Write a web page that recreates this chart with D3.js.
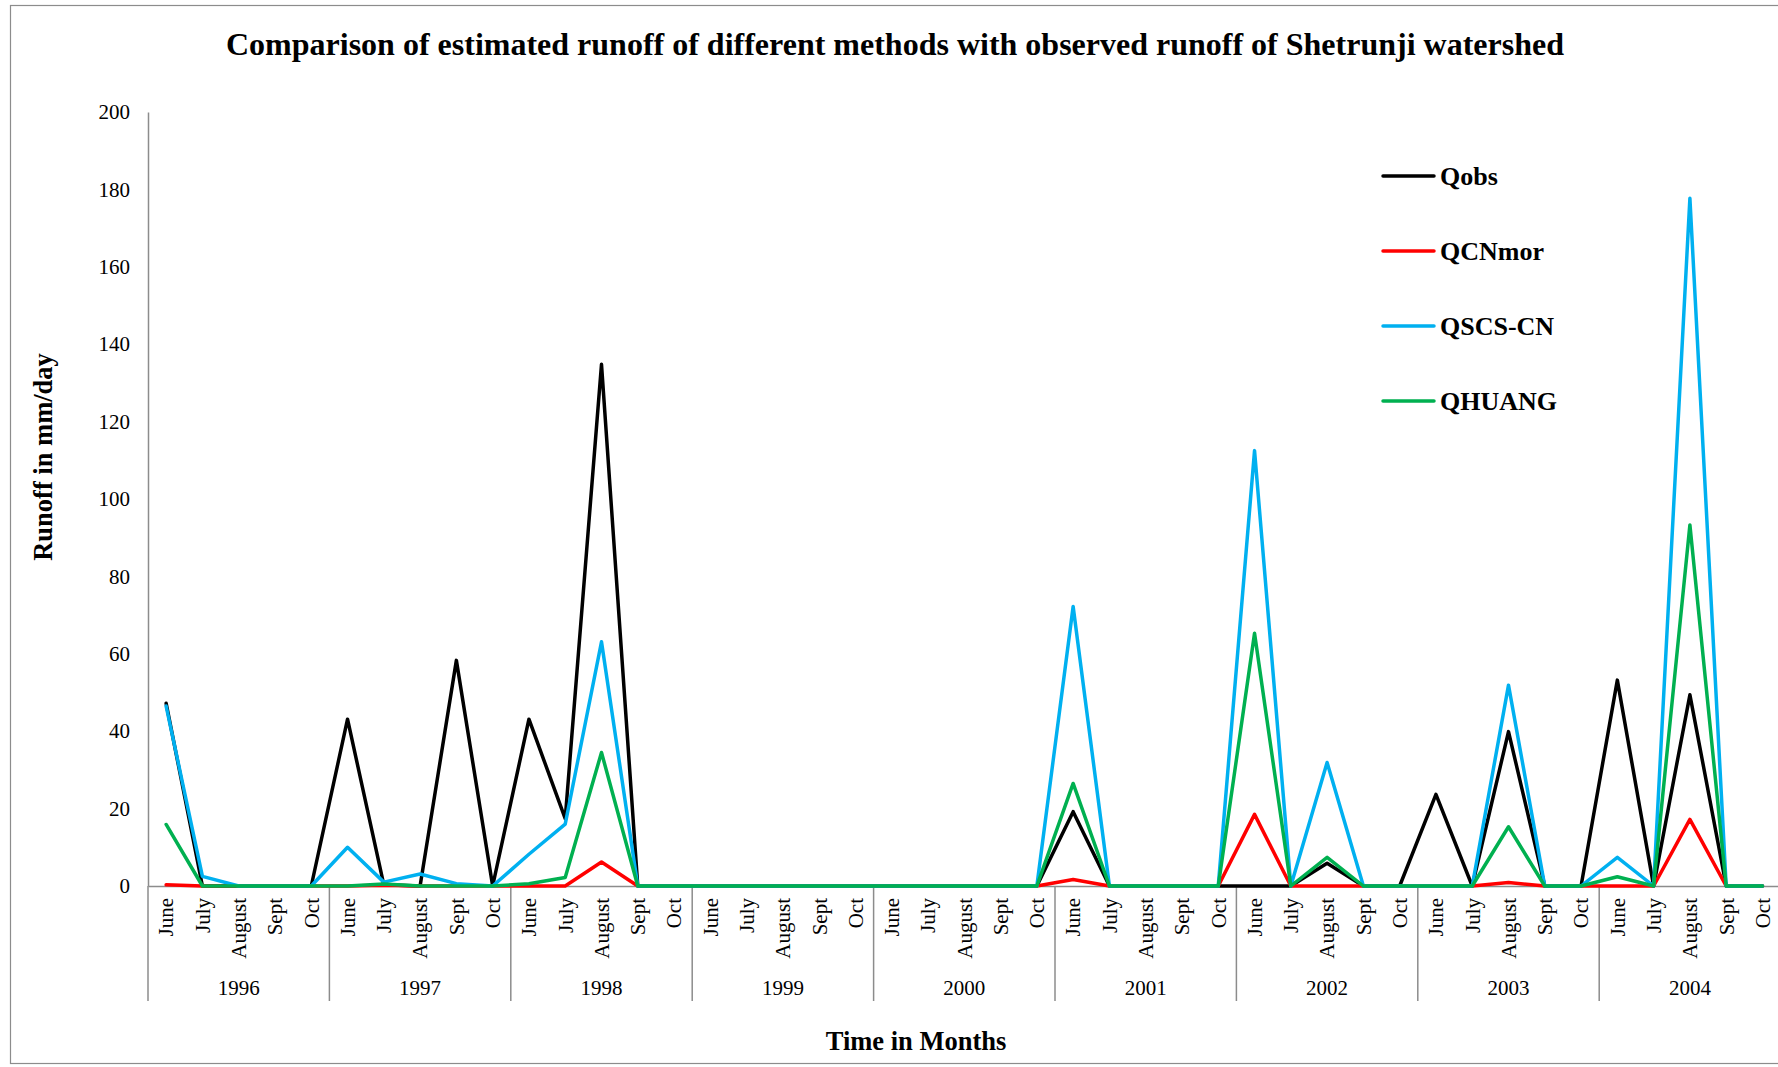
<!DOCTYPE html>
<html>
<head>
<meta charset="utf-8">
<script src="https://cdn.jsdelivr.net/npm/d3@7/dist/d3.min.js"></script>
<style>
  body { margin: 0; background: #fff; }
  svg { display: block; font-family: "Liberation Serif", "Times New Roman", serif; }
</style>
</head>
<body>
<svg id="chart" width="1778" height="1067"></svg>
<script>
// Monsoon months for each year of record
const years = ["1996", "1997", "1998", "1999", "2000", "2001", "2002", "2003", "2004"];
const months = ["June", "July", "August", "Sept", "Oct"];
const yTicks = [0, 20, 40, 60, 80, 100, 120, 140, 160, 180, 200];

// Runoff (mm/day), one value per month, years in order
const qObs = [
  47.2, 0, 0, 0, 0,
  43.1, 0.3, 0, 58.3, 0,
  43.1, 17.4, 134.8, 0, 0,
  0, 0, 0, 0, 0,
  0, 0, 0, 0, 0,
  19.2, 0, 0, 0, 0,
  0, 0, 5.9, 0, 0,
  23.7, 0, 39.9, 0, 0,
  53.2, 0, 49.4, 0, 0
];
const qCNmor = [
  0.3, 0, 0, 0, 0,
  0, 0.2, 0, 0, 0,
  0, 0, 6.2, 0, 0,
  0, 0, 0, 0, 0,
  0, 0, 0, 0, 0,
  1.7, 0, 0, 0, 0,
  18.5, 0, 0, 0, 0,
  0, 0, 0.9, 0, 0,
  0, 0, 17.2, 0, 0
];
const qSCSCN = [
  46.5, 2.5, 0, 0, 0,
  10.0, 1.0, 3.1, 0.6, 0,
  8.2, 16.0, 63.1, 0, 0,
  0, 0, 0, 0, 0,
  0, 0, 0, 0, 0,
  72.2, 0, 0, 0, 0,
  112.5, 0, 31.9, 0, 0,
  0, 0, 51.9, 0, 0,
  7.4, 0, 177.7, 0, 0
];
const qHuang = [
  15.9, 0, 0, 0, 0,
  0, 0.5, 0, 0, 0,
  0.6, 2.2, 34.5, 0, 0,
  0, 0, 0, 0, 0,
  0, 0, 0, 0, 0,
  26.5, 0, 0, 0, 0,
  65.3, 0, 7.4, 0, 0,
  0, 0, 15.3, 0, 0,
  2.4, 0, 93.3, 0, 0
];

const seriesNames = ["Qobs", "QCNmor", "QSCS-CN", "QHUANG"];
const seriesValues = [qObs, qCNmor, qSCSCN, qHuang];
const seriesColors = ["#000000", "#ff0000", "#00b0f0", "#00b050"];

const svg = d3.select("#chart");

// Outer frame
svg.append("rect")
  .attr("x", 10.5).attr("y", 5.5)
  .attr("width", 1800).attr("height", 1058)
  .attr("fill", "none").attr("stroke", "#8c8c8c").attr("stroke-width", 1.2);

// Category keys: year-month
const keys = [];
years.forEach(yr => months.forEach(m => keys.push(yr + "-" + m)));

const plotLeft = 148, plotTop = 112, zeroY = 886;
const bandW = 36.28;
const x = d3.scaleBand().domain(keys).range([plotLeft, plotLeft + bandW * keys.length]).padding(0);
const y = d3.scaleLinear().domain([0, 200]).range([zeroY, plotTop]);

// Title
svg.append("text")
  .attr("x", 895).attr("y", 55)
  .attr("text-anchor", "middle")
  .attr("font-weight", "bold").attr("font-size", 32)
  .text("Comparison of estimated runoff of different methods with observed runoff of Shetrunji watershed");

// Y axis
const yAxis = svg.append("g")
  .attr("transform", `translate(${plotLeft},0)`)
  .call(d3.axisLeft(y).tickValues(yTicks).tickSize(0).tickSizeOuter(0).tickPadding(18));
yAxis.select(".domain").attr("stroke", "#8c8c8c").attr("stroke-width", 1.5);
yAxis.selectAll("text").attr("font-size", 21).attr("font-family", "Liberation Serif, Times New Roman, serif").attr("fill", "#000");

// X axis with month labels
const xAxis = svg.append("g")
  .attr("transform", `translate(0,${zeroY})`)
  .call(d3.axisBottom(x).tickSize(0).tickSizeOuter(0).tickFormat(k => k.split("-")[1]));
xAxis.select(".domain").attr("stroke", "#8c8c8c").attr("stroke-width", 1.5);
xAxis.selectAll("text")
  .attr("font-size", 21).attr("font-family", "Liberation Serif, Times New Roman, serif").attr("fill", "#000")
  .attr("transform", "rotate(-90)")
  .attr("text-anchor", "end")
  .attr("x", -12).attr("y", 0).attr("dy", "0.35em");

// Year separators and year labels
years.forEach((yr, i) => {
  const x0 = x(yr + "-" + months[0]);
  svg.append("line")
    .attr("x1", x0).attr("x2", x0)
    .attr("y1", zeroY).attr("y2", 1001)
    .attr("stroke", "#8c8c8c").attr("stroke-width", 1.5);
  const xm = x0 + bandW * months.length / 2;
  svg.append("text")
    .attr("x", xm).attr("y", 995)
    .attr("text-anchor", "middle").attr("font-size", 21)
    .text(yr);
});

// Axis titles
svg.append("text")
  .attr("transform", "translate(43,457) rotate(-90)")
  .attr("text-anchor", "middle").attr("dy", "0.35em")
  .attr("font-weight", "bold").attr("font-size", 26.5)
  .text("Runoff in mm/day");
svg.append("text")
  .attr("x", 916).attr("y", 1050)
  .attr("text-anchor", "middle")
  .attr("font-weight", "bold").attr("font-size", 26.5)
  .text("Time in Months");

// Series lines
const line = d3.line()
  .x((d, i) => x(keys[i]) + x.bandwidth() / 2)
  .y(d => y(d));

seriesValues.forEach((vals, s) => {
  svg.append("path")
    .datum(vals)
    .attr("d", line)
    .attr("fill", "none")
    .attr("stroke", seriesColors[s])
    .attr("stroke-width", 3.5)
    .attr("stroke-linejoin", "round")
    .attr("stroke-linecap", "round");
});

// Legend
const legend = svg.append("g");
seriesNames.forEach((name, s) => {
  const ly = 176 + s * 75;
  legend.append("line")
    .attr("x1", 1383).attr("x2", 1434)
    .attr("y1", ly).attr("y2", ly)
    .attr("stroke", seriesColors[s]).attr("stroke-width", 3.5)
    .attr("stroke-linecap", "round");
  legend.append("text")
    .attr("x", 1440).attr("y", ly).attr("dy", "0.35em")
    .attr("font-weight", "bold").attr("font-size", 26)
    .text(name);
});
</script>
</body>
</html>
